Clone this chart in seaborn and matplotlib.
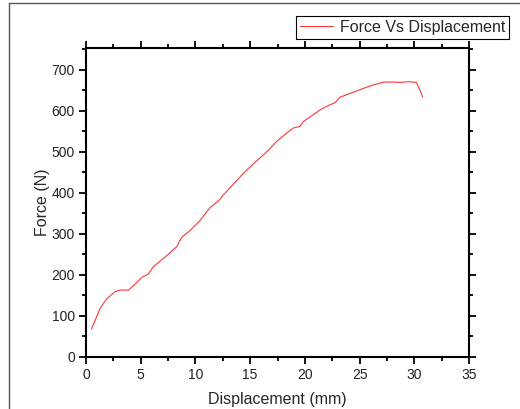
import numpy as np
import pandas as pd
import matplotlib
matplotlib.use("Agg")
import matplotlib.pyplot as plt
import seaborn as sns
from matplotlib.lines import Line2D
from matplotlib.ticker import MultipleLocator

# values
displacement = [0.5, 1.0, 1.3, 1.9, 2.65, 3.1, 3.9, 4.5, 5.1, 5.7, 6.15, 7.2, 8.3, 8.75,
                9.5, 10.4, 11.3, 12.2, 12.55, 13.5, 14.4, 15.1, 15.9, 16.7, 17.4, 18.2,
                18.95, 19.56, 19.87, 20.3, 21.4, 22.0, 22.76, 23.2, 24.4, 26.0, 27.2,
                28.0, 28.7, 29.46, 30.2, 30.5, 30.77]
force = [68, 100, 119, 142, 159, 163, 163, 178, 194, 202, 220, 243, 269, 292,
         308, 332, 363, 383, 395, 422, 448, 466, 485, 505, 525, 543,
         558, 562, 574, 582, 602, 611, 620, 633, 645, 661, 670,
         670, 669, 671, 669, 651, 633]

df = pd.DataFrame({"Displacement": displacement, "Force": force})

sns.set_style("ticks")
plt.rcParams['font.family'] = ['Liberation Sans', 'DejaVu Sans']

fig = plt.figure(figsize=(5.2, 4.09), dpi=100)
W, H = 520, 409
ax = fig.add_axes([86 / W, 1 - 357 / H, (469 - 86) / W, (357 - 48) / H])

sns.lineplot(data=df, x="Displacement", y="Force", ax=ax, color="#ff3535",
             linewidth=0.8, estimator=None, sort=False, label="Force Vs Displacement")

ax.set_xlim(0, 35)
ax.set_ylim(0, 753)
ax.xaxis.set_major_locator(MultipleLocator(5))
ax.xaxis.set_minor_locator(MultipleLocator(2.5))
ax.yaxis.set_major_locator(MultipleLocator(100))
ax.yaxis.set_minor_locator(MultipleLocator(50))
ax.tick_params(which="both", direction="out", top=True, right=True,
               labeltop=False, labelright=False, color="black", width=1.3)
ax.tick_params(which="major", length=5, labelsize=10, labelcolor="#222222", pad=3)
ax.tick_params(which="minor", length=3)
for s in ax.spines.values():
    s.set_visible(True)
    s.set_color("black")
    s.set_linewidth(1.5)

ax.set_xlabel("Displacement (mm)", fontsize=11.5, labelpad=7)
ax.set_ylabel("Force (N)", fontsize=11.5, labelpad=1)

leg = ax.legend(loc="upper right", bbox_to_anchor=(509 / W, 1 - 16 / H),
                bbox_transform=fig.transFigure, fontsize=11.5, frameon=True,
                fancybox=False, edgecolor="black", framealpha=1,
                handlelength=2.1, handletextpad=0.4, borderpad=0.25,
                borderaxespad=0)
leg.get_frame().set_linewidth(0.8)

# screenshot frame (top and left edges)
fig.add_artist(Line2D([8.5 / W, 1], [1 - 2.5 / H, 1 - 2.5 / H], transform=fig.transFigure,
                      color="#555555", linewidth=1))
fig.add_artist(Line2D([8.5 / W, 8.5 / W], [0, 1 - 2.5 / H], transform=fig.transFigure,
                      color="#555555", linewidth=1))

fig.savefig("out.png", dpi=100)
